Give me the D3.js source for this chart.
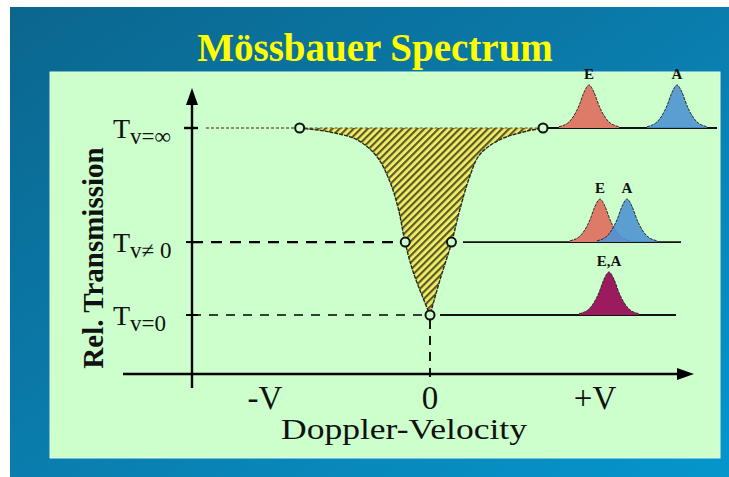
<!DOCTYPE html>
<html>
<head>
<meta charset="utf-8">
<script src="https://cdn.jsdelivr.net/npm/d3@7"></script>
<style>
  html, body { margin: 0; padding: 0; background: #fff; }
  svg { display: block; }
</style>
</head>
<body>
<div id="chart"></div>
<script>
// Transmission levels marked on the y axis (T∞ = 1, T0 = 0)
const levelLabels = ['v=∞', 'v≠ 0', 'v=0'];
const levelValues = [1, 0.39, 0];

// Doppler velocity ticks
const tickLabels = ['-V', '0', '+V'];
const tickValues = [-1, 0, 1];

// Absorption dip (velocity in units of V, relative transmission)
const dipLeftV  = [-0.79, -0.61, -0.44, -0.32, -0.24, -0.19, -0.15, -0.10, 0];
const dipLeftT  = [1.00, 0.979, 0.936, 0.845, 0.706, 0.561, 0.385, 0.225, 0];
const dipRightV = [0, 0.06, 0.13, 0.18, 0.24, 0.30, 0.42, 0.59, 0.685];
const dipRightT = [0, 0.187, 0.385, 0.561, 0.738, 0.856, 0.936, 0.984, 1.00];

// Open circle markers on the dip
const markerV = [-0.79, 0.685, -0.15, 0.13, 0];
const markerT = [1, 1, 0.39, 0.39, 0];

// Shape of one emission / absorption line (offset in half-widths, relative height)
const peakOffsets = [-3, -2, -1.5, -1, -0.5, 0, 0.5, 1, 1.5, 2, 3];
const peakHeights = [0.03, 0.14, 0.29, 0.52, 0.83, 1, 0.83, 0.52, 0.29, 0.14, 0.03];

// Small spectra on the right: line position (E at 0, A at 1 in the top row)
const insetRows   = [1, 0.39, 0];            // which transmission level each row sits on
const insetNames  = [['E', 'A'], ['E', 'A'], ['E,A']];
const insetPos    = [[0, 1], [0.125, 0.432], [0.227]];
const insetColors = [['#dd7b68', '#4f93d3'], ['#dd7b68', '#4f93d3'], ['#9c1a5e']];

function drawChart(selector) {
  const width = 729;
  const height = 477;

  const svg = d3.select(selector)
    .append('svg')
    .attr('width', width)
    .attr('height', height);

  const defs = svg.append('defs');

  const bg = defs.append('linearGradient')
    .attr('id', 'bg')
    .attr('x1', '0%').attr('y1', '0%')
    .attr('x2', '100%').attr('y2', '100%');
  bg.append('stop').attr('offset', '0%').attr('stop-color', '#0b668e');
  bg.append('stop').attr('offset', '55%').attr('stop-color', '#0a7fb0');
  bg.append('stop').attr('offset', '100%').attr('stop-color', '#0596cc');

  // yellow / olive diagonal hatching for the dip
  const hatch = defs.append('pattern')
    .attr('id', 'hatch')
    .attr('patternUnits', 'userSpaceOnUse')
    .attr('width', 5)
    .attr('height', 5)
    .attr('patternTransform', 'rotate(45)');
  hatch.append('rect').attr('width', 5).attr('height', 5).attr('fill', '#f2f064');
  hatch.append('rect').attr('width', 2.2).attr('height', 5).attr('fill', '#5c5a2c');

  // page background
  svg.append('rect')
    .attr('x', 10).attr('y', 7)
    .attr('width', width - 10).attr('height', height - 7)
    .attr('fill', 'url(#bg)');

  svg.append('rect')
    .attr('x', 50).attr('y', 72)
    .attr('width', 670).attr('height', 386)
    .attr('fill', '#ccffcc')
    .attr('stroke', '#dcffe6')
    .attr('stroke-width', 1);

  svg.append('text')
    .attr('x', 375)
    .attr('y', 61)
    .attr('text-anchor', 'middle')
    .attr('font-family', 'Liberation Serif, Times New Roman, serif')
    .attr('font-weight', 'bold')
    .attr('font-size', 39)
    .attr('fill', '#ffff00')
    .text('Mössbauer Spectrum');

  const x = d3.scaleLinear().domain([-1, 1]).range([265, 595]);
  const y = d3.scaleLinear().domain([0, 1]).range([315, 128]);

  const axisX = 192;
  const axisY = 374;
  const serif = 'Liberation Serif, Times New Roman, serif';

  // --- guide lines at each transmission level
  svg.append('line')
    .attr('x1', axisX + 14).attr('x2', x(markerV[0]) - 5)
    .attr('y1', y(1)).attr('y2', y(1))
    .attr('stroke', '#6b6b50')
    .attr('stroke-width', 1.6)
    .attr('stroke-dasharray', '3,2');

  svg.append('line')
    .attr('x1', axisX).attr('x2', x(markerV[2]) - 5)
    .attr('y1', y(levelValues[1])).attr('y2', y(levelValues[1]))
    .attr('stroke', '#000')
    .attr('stroke-width', 2.2)
    .attr('stroke-dasharray', '11,8');

  svg.append('line')
    .attr('x1', axisX).attr('x2', x(0) - 5)
    .attr('y1', y(0)).attr('y2', y(0))
    .attr('stroke', '#000')
    .attr('stroke-width', 1.6)
    .attr('stroke-dasharray', '9,8');

  svg.append('line')
    .attr('x1', x(0)).attr('x2', x(0))
    .attr('y1', y(0) + 5).attr('y2', axisY + 6)
    .attr('stroke', '#000')
    .attr('stroke-width', 1.8)
    .attr('stroke-dasharray', '9,7');

  // --- the hatched dip
  const line = d3.line()
    .x(d => x(d[0]))
    .y(d => y(d[1]))
    .curve(d3.curveCatmullRom.alpha(0.5));

  const leftPts = dipLeftV.map((v, i) => [v, dipLeftT[i]]);
  const rightPts = dipRightV.map((v, i) => [v, dipRightT[i]]);
  const leftD = line(leftPts);
  const rightD = line(rightPts);

  svg.append('path')
    .attr('d', leftD + rightD.replace(/^M/, 'L') + 'Z')
    .attr('fill', 'url(#hatch)');

  svg.append('path')
    .attr('d', leftD + rightD.replace(/^M/, 'L'))
    .attr('fill', 'none')
    .attr('stroke', '#2a2a1a')
    .attr('stroke-width', 1.4)
    .attr('stroke-dasharray', '4,1');

  svg.append('line')
    .attr('x1', x(markerV[0])).attr('x2', x(markerV[1]))
    .attr('y1', y(1)).attr('y2', y(1))
    .attr('stroke', '#55553a')
    .attr('stroke-width', 1.2)
    .attr('stroke-dasharray', '3,2');

  // --- small spectra on the right
  const insetX = d3.scaleLinear().domain([0, 1]).range([589, 677]);
  const halfW = 10;
  const peakH = 43;
  const rowSpans = [[x(markerV[1]) + 5, 717], [463, 681], [440, 676]];

  const peakLine = d3.line()
    .x(d => d[0])
    .y(d => d[1])
    .curve(d3.curveMonotoneX);

  insetRows.forEach((t, r) => {
    const base = y(t);
    svg.append('line')
      .attr('x1', rowSpans[r][0]).attr('x2', rowSpans[r][1])
      .attr('y1', base).attr('y2', base)
      .attr('stroke', '#111')
      .attr('stroke-width', 1.8);

    insetPos[r].forEach((p, k) => {
      const cx = insetX(p);
      const pts = peakOffsets.map((o, i) => [cx + o * halfW, base - peakHeights[i] * peakH]);
      const d = peakLine(pts);
      svg.append('path')
        .attr('d', d + `L${cx + 3 * halfW},${base}L${cx - 3 * halfW},${base}Z`)
        .attr('fill', insetColors[r][k])
        .attr('fill-opacity', k === 1 ? 0.9 : 1)
        .attr('stroke', 'none');
      svg.append('path')
        .attr('d', d)
        .attr('fill', 'none')
        .attr('stroke', '#2b2b2b')
        .attr('stroke-width', 1)
        .attr('stroke-dasharray', '3,1');
      svg.append('text')
        .attr('x', cx)
        .attr('y', base - peakH - 6)
        .attr('text-anchor', 'middle')
        .attr('font-family', serif)
        .attr('font-weight', 'bold')
        .attr('font-size', 15)
        .attr('fill', '#111')
        .text(insetNames[r][k]);
    });
  });

  // --- open circle markers
  svg.selectAll('.marker')
    .data(markerV.map((v, i) => [v, markerT[i]]))
    .enter()
    .append('circle')
    .attr('class', 'marker')
    .attr('cx', d => x(d[0]))
    .attr('cy', d => y(d[1]))
    .attr('r', 4.5)
    .attr('fill', '#ccffcc')
    .attr('stroke', '#111')
    .attr('stroke-width', 2);

  // --- axes
  svg.append('line')
    .attr('x1', axisX).attr('x2', axisX)
    .attr('y1', axisY + 14).attr('y2', 100)
    .attr('stroke', '#000')
    .attr('stroke-width', 2.4);
  svg.append('path')
    .attr('d', `M${axisX},88L${axisX - 6},105L${axisX + 6},105Z`)
    .attr('fill', '#000');

  svg.append('line')
    .attr('x1', 123).attr('x2', 682)
    .attr('y1', axisY).attr('y2', axisY)
    .attr('stroke', '#000')
    .attr('stroke-width', 2.4);
  svg.append('path')
    .attr('d', `M694,${axisY}L677,${axisY - 6}L677,${axisY + 6}Z`)
    .attr('fill', '#000');

  svg.append('line')
    .attr('x1', axisX - 8).attr('x2', axisX + 6)
    .attr('y1', y(1)).attr('y2', y(1))
    .attr('stroke', '#000')
    .attr('stroke-width', 2.4);

  levelValues.slice(1).forEach(t => {
    svg.append('line')
      .attr('x1', axisX - 6).attr('x2', axisX + 6)
      .attr('y1', y(t)).attr('y2', y(t))
      .attr('stroke', '#000')
      .attr('stroke-width', 2);
  });

  // y level labels: T with subscript
  levelValues.forEach((t, i) => {
    const label = svg.append('text')
      .attr('x', 113)
      .attr('y', y(t) + 10)
      .attr('font-family', serif)
      .attr('fill', '#111');
    label.append('tspan')
      .attr('font-size', 28)
      .text('T');
    label.append('tspan')
      .attr('font-size', 23)
      .attr('dy', 6)
      .text(levelLabels[i]);
  });

  svg.append('text')
    .attr('transform', 'translate(103, 258) rotate(-90)')
    .attr('text-anchor', 'middle')
    .attr('font-family', serif)
    .attr('font-weight', 'bold')
    .attr('font-size', 29)
    .attr('fill', '#111')
    .text('Rel. Transmission');

  svg.selectAll('.tick-label')
    .data(tickValues)
    .enter()
    .append('text')
    .attr('class', 'tick-label')
    .attr('x', d => x(d))
    .attr('y', 409)
    .attr('text-anchor', 'middle')
    .attr('font-family', serif)
    .attr('font-size', 33)
    .attr('fill', '#111')
    .text((d, i) => tickLabels[i]);

  svg.append('text')
    .attr('x', 404)
    .attr('y', 439)
    .attr('text-anchor', 'middle')
    .attr('font-family', serif)
    .attr('font-size', 29)
    .attr('textLength', 246)
    .attr('lengthAdjust', 'spacingAndGlyphs')
    .attr('fill', '#111')
    .text('Doppler-Velocity');
}

drawChart('#chart');
</script>
</body>
</html>
